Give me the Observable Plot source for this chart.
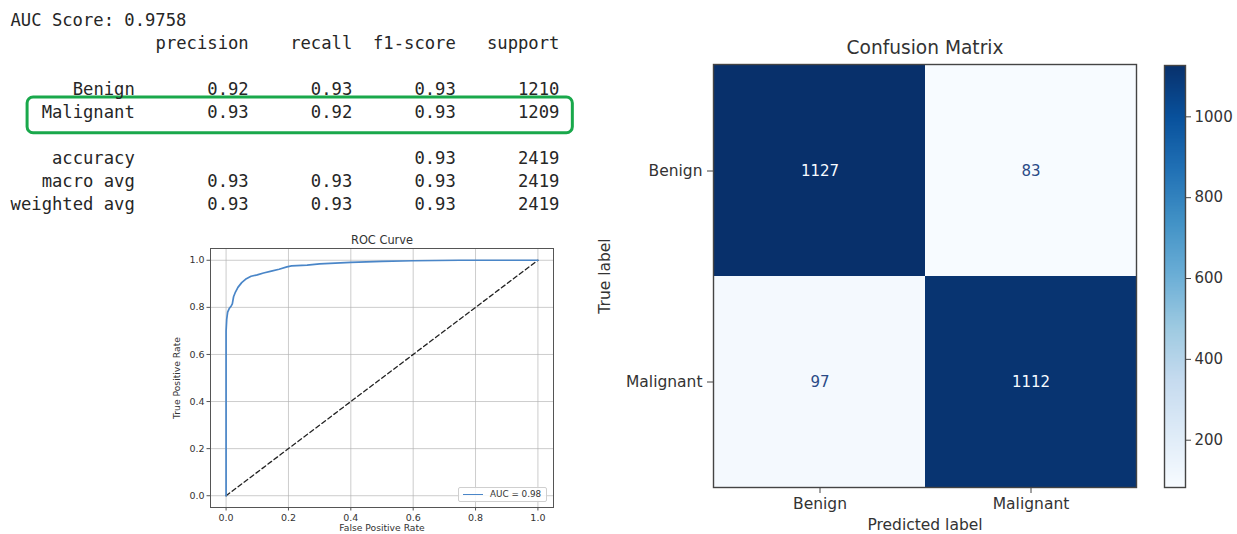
<!DOCTYPE html>
<html>
<head>
<meta charset="utf-8">
<script src="https://cdn.jsdelivr.net/npm/d3@7"></script>
<script src="https://cdn.jsdelivr.net/npm/@observablehq/plot@0.6"></script>
<style>
  html, body { margin: 0; padding: 0; background: #fff; }
  #board { position: relative; width: 1237px; height: 534px; overflow: hidden; background: #fff; }
  #board > svg { position: absolute; }
  .roc-legend {
    position: absolute; left: 458px; top: 487px; width: 89px; height: 15px;
    border: 1px solid #cfcfcf; border-radius: 2px; background: rgba(255,255,255,0.85);
    font: 8.8px "DejaVu Sans", sans-serif; color: #333; box-sizing: border-box;
  }
  .roc-legend .swatch { position: absolute; left: 4px; top: 6px; width: 20px; height: 0; border-top: 1.5px solid #4a86c8; }
  .roc-legend .label { position: absolute; left: 31px; top: 1px; white-space: nowrap; }
</style>
</head>
<body>
<div id="board"></div>
<script>
// ---- classification report values ----
const aucScore = 0.9758;
const reportColumns = ["precision", "recall", "f1-score", "support"];
const classNames = ["Benign", "Malignant"];
const classPrecision = [0.92, 0.93];
const classRecall = [0.93, 0.92];
const classF1 = [0.93, 0.93];
const classSupport = [1210, 1209];
const accuracy = 0.93;
const totalSupport = 2419;
const avgNames = ["macro avg", "weighted avg"];
const avgPrecision = [0.93, 0.93];
const avgRecall = [0.93, 0.93];
const avgF1 = [0.93, 0.93];
const highlightedClass = "Malignant";

// ---- ROC curve points ----
const fpr = [0, 0, 0.002, 0.005, 0.010, 0.016, 0.020, 0.024, 0.030, 0.038, 0.050, 0.065, 0.080, 0.100, 0.120, 0.145, 0.170, 0.195, 0.210, 0.260, 0.300, 0.400, 0.500, 0.600, 0.750, 1.0];
const tpr = [0, 0.70, 0.75, 0.78, 0.795, 0.805, 0.815, 0.845, 0.865, 0.885, 0.905, 0.922, 0.932, 0.938, 0.946, 0.954, 0.962, 0.972, 0.976, 0.979, 0.985, 0.991, 0.995, 0.998, 1.0, 1.0];
const chanceLine = [0, 1];
const rocTicks = [0, 0.2, 0.4, 0.6, 0.8, 1.0];

// ---- confusion matrix ----
const cmLabels = ["Benign", "Malignant"];
const cmCounts = [[1127, 83], [97, 1112]];
const colorbarTicks = [200, 400, 600, 800, 1000];
const bluesColors = ["#f7fbff", "#deebf7", "#c6dbef", "#9ecae1", "#6baed6", "#4292c6", "#2171b5", "#08519c", "#08306b"];

const board = document.getElementById("board");
const textColor = "#262626";
const sans = "'DejaVu Sans', sans-serif";
const mono = "'DejaVu Sans Mono', monospace";

function place(svg, left, top) {
  svg.style.left = left + "px";
  svg.style.top = top + "px";
  board.appendChild(svg);
}

// ================= classification report =================
{
  const fontSize = 17.2;
  const cw = fontSize * 0.6021;      // monospace advance
  const nameEnd = 12, colEnds = [23, 33, 43, 53];
  const fmt = d3.format(".2f");
  const endCells = [];
  reportColumns.forEach((h, i) => endCells.push({row: 1, col: colEnds[i], text: h}));
  classNames.forEach((name, k) => {
    const row = 3 + k;
    endCells.push({row, col: nameEnd, text: name});
    endCells.push({row, col: colEnds[0], text: fmt(classPrecision[k])});
    endCells.push({row, col: colEnds[1], text: fmt(classRecall[k])});
    endCells.push({row, col: colEnds[2], text: fmt(classF1[k])});
    endCells.push({row, col: colEnds[3], text: String(classSupport[k])});
  });
  endCells.push({row: 6, col: nameEnd, text: "accuracy"});
  endCells.push({row: 6, col: colEnds[2], text: fmt(accuracy)});
  endCells.push({row: 6, col: colEnds[3], text: String(totalSupport)});
  avgNames.forEach((name, k) => {
    const row = 7 + k;
    endCells.push({row, col: nameEnd, text: name});
    endCells.push({row, col: colEnds[0], text: fmt(avgPrecision[k])});
    endCells.push({row, col: colEnds[1], text: fmt(avgRecall[k])});
    endCells.push({row, col: colEnds[2], text: fmt(avgF1[k])});
    endCells.push({row, col: colEnds[3], text: String(totalSupport)});
  });
  const highlightRow = 3 + classNames.indexOf(highlightedClass);

  const report = Plot.plot({
    width: 600, height: 225, margin: 0,
    x: {domain: [0, 53], range: [10, 10 + 53 * cw], axis: null},
    y: {domain: [0, 8], range: [20, 20 + 8 * 23], axis: null},
    style: {background: "transparent", color: textColor, fontFamily: mono, fontSize: fontSize + "px", overflow: "visible"},
    marks: [
      Plot.rect([highlightRow], {
        x1: () => 1.65, x2: () => 54.3,
        y1: r => r - 0.65, y2: r => r + 0.9,
        rx: 6, fill: "none", stroke: "#19a84b", strokeWidth: 3
      }),
      Plot.text([`AUC Score: ${aucScore}`], {x: () => 0, y: () => 0, text: d => d, textAnchor: "start", fontFamily: mono, fontSize, fill: textColor}),
      Plot.text(endCells, {x: "col", y: "row", text: "text", textAnchor: "end", fontFamily: mono, fontSize, fill: textColor})
    ]
  });
  place(report, 0, 0);
}

// ================= ROC curve =================
{
  const rocPoints = fpr.map((f, i) => ({fpr: f, tpr: tpr[i]}));
  const roc = Plot.plot({
    width: 400, height: 320,
    marginLeft: 50, marginRight: 7, marginTop: 23, marginBottom: 38,
    x: {domain: [-0.05, 1.05]},
    y: {domain: [-0.05, 1.05]},
    style: {background: "transparent", color: "#333", fontFamily: sans, fontSize: "9.5px", overflow: "visible"},
    marks: [
      Plot.gridX(rocTicks, {stroke: "#b0b0b0", strokeOpacity: 0.65, strokeWidth: 1}),
      Plot.gridY(rocTicks, {stroke: "#b0b0b0", strokeOpacity: 0.65, strokeWidth: 1}),
      Plot.line(chanceLine, {x: d => d, y: d => d, stroke: "#222", strokeWidth: 1.3, strokeDasharray: "4.5,3"}),
      Plot.line(rocPoints, {x: "fpr", y: "tpr", stroke: "#4a86c8", strokeWidth: 1.7, curve: "linear"}),
      Plot.frame({stroke: "#555", strokeWidth: 1}),
      Plot.axisX(rocTicks, {tickFormat: d3.format(".1f"), tickSize: 3.5, tickPadding: 3, fontSize: 9.5, label: null, stroke: "#555", fill: "#333"}),
      Plot.axisY(rocTicks, {tickFormat: d3.format(".1f"), tickSize: 3.5, tickPadding: 2.5, fontSize: 9.5, label: null, stroke: "#555", fill: "#333"}),
      Plot.text(["ROC Curve"], {text: d => d, frameAnchor: "top", lineAnchor: "middle", dy: -8, fontSize: 11.4, fill: "#333"}),
      Plot.text(["False Positive Rate"], {text: d => d, frameAnchor: "bottom", lineAnchor: "middle", dy: 21, fontSize: 9.2, fill: "#333"}),
      Plot.text(["True Positive Rate"], {text: d => d, frameAnchor: "left", textAnchor: "middle", lineAnchor: "middle", dx: -33, rotate: -90, fontSize: 9.2, fill: "#333"})
    ]
  });
  place(roc, 160, 225);

  const legend = document.createElement("div");
  legend.className = "roc-legend";
  legend.innerHTML = `<span class="swatch"></span><span class="label">AUC = ${aucScore.toFixed(2)}</span>`;
  board.appendChild(legend);
}

// ================= confusion matrix =================
{
  const flat = cmCounts.flatMap(v => v);
  const vmin = d3.min(flat), vmax = d3.max(flat);
  const colorDomain = bluesColors.map((_, i) => vmin + (i / (bluesColors.length - 1)) * (vmax - vmin));
  const colorScale = {type: "linear", domain: colorDomain, range: bluesColors, clamp: true};
  const threshold = (vmin + vmax) / 2;
  const cells = [];
  cmLabels.forEach((actual, i) => cmLabels.forEach((pred, j) => cells.push({actual, pred, count: cmCounts[i][j]})));

  const cm = Plot.plot({
    width: 560, height: 534,
    marginLeft: 123, marginRight: 14, marginTop: 64, marginBottom: 47,
    x: {domain: cmLabels, padding: 0},
    y: {domain: cmLabels, padding: 0},
    color: colorScale,
    style: {background: "transparent", color: "#333", fontFamily: sans, fontSize: "15.5px", overflow: "visible"},
    marks: [
      Plot.cell(cells, {x: "pred", y: "actual", fill: "count", inset: 0}),
      Plot.text(cells.filter(d => d.count >= threshold), {x: "pred", y: "actual", text: d => String(d.count), fill: bluesColors[0], fontSize: 15}),
      Plot.text(cells.filter(d => d.count < threshold), {x: "pred", y: "actual", text: d => String(d.count), fill: "#2a4a86", fontSize: 15}),
      Plot.frame({stroke: "#444", strokeWidth: 1.4}),
      Plot.axisX({tickSize: 6, tickPadding: 4, fontSize: 15.5, label: null, stroke: "#444", fill: "#333"}),
      Plot.axisY({tickSize: 6, tickPadding: 5, fontSize: 15.5, label: null, stroke: "#444", fill: "#333"}),
      Plot.text(["Confusion Matrix"], {text: d => d, frameAnchor: "top", lineAnchor: "middle", dy: -16, fontSize: 18.6, fill: "#333"}),
      Plot.text(["Predicted label"], {text: d => d, frameAnchor: "bottom", lineAnchor: "middle", dy: 38, fontSize: 15.5, fill: "#333"}),
      Plot.text(["True label"], {text: d => d, frameAnchor: "left", textAnchor: "middle", lineAnchor: "middle", dx: -108, rotate: -90, fontSize: 15.5, fill: "#333"})
    ]
  });
  place(cm, 590, 0);

  // vertical colour bar sharing the same colour mapping
  const step = 2;
  const ramp = d3.range(vmin, vmax, step);
  const bar = Plot.plot({
    width: 87, height: 534,
    marginLeft: 14, marginRight: 52, marginTop: 65, marginBottom: 47,
    x: {domain: [0, 1], axis: null},
    y: {domain: [vmin, vmax]},
    color: colorScale,
    style: {background: "transparent", color: "#333", fontFamily: sans, fontSize: "15px", overflow: "visible"},
    marks: [
      Plot.rect(ramp, {x1: () => 0, x2: () => 1, y1: d => d, y2: d => Math.min(d + step + 0.5, vmax), fill: d => d, shapeRendering: "crispEdges"}),
      Plot.frame({stroke: "#444", strokeWidth: 1.4}),
      Plot.axisY(colorbarTicks, {anchor: "right", tickSize: 5, tickPadding: 4, fontSize: 15, tickFormat: d3.format("d"), label: null, stroke: "#444", fill: "#333"})
    ]
  });
  place(bar, 1150, 0);
}
</script>
</body>
</html>
